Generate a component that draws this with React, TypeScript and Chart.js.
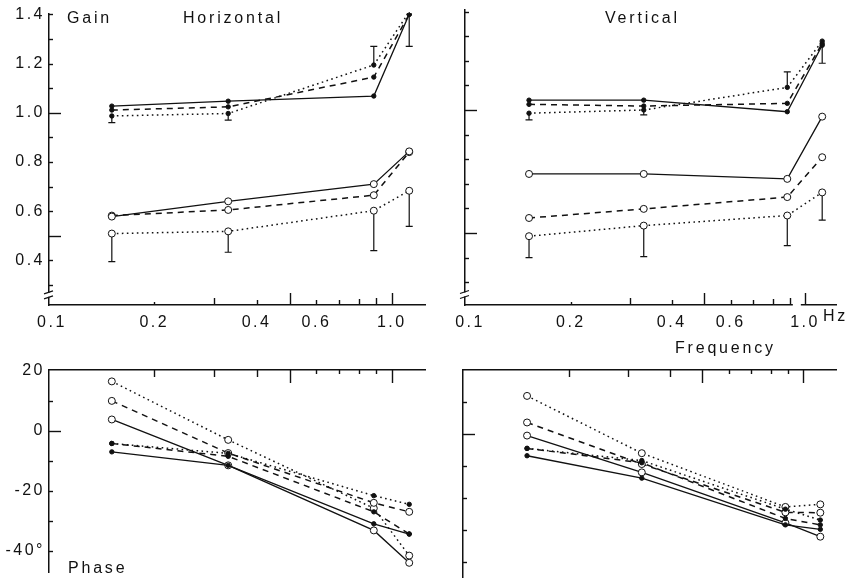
import React, { useEffect, useRef } from "react";
import { Chart, registerables } from "chart.js";

Chart.register(...registerables);

const FONT = "'Liberation Sans', Arial, Helvetica, sans-serif";
const INK = "#111";

// ---------- data ----------
const frequencies = [0.15, 0.33, 0.885, 1.125];
const freqTickLabels = [0.1, 0.2, 0.4, 0.6, 1.0];
const freqTickMarks = [0.2, 0.3, 0.4, 0.5, 0.6, 0.7, 0.8, 0.9, 1.0];
const freqTickLenBottom = [3, 7, 5, 12, 5, 5, 6, 7, 12];
const freqTickLenTop = [7, 7, 7, 13, 4, 4, 4, 4, 13];

const gainTickLabels = [0.4, 0.6, 0.8, 1.0, 1.2, 1.4];
const gainTickMarks = [0.3, 0.4, 0.5, 0.6, 0.7, 0.8, 0.9, 1.0, 1.1, 1.2, 1.3, 1.4];
const gainMajorMarks = [0.5, 1.0];
const phaseTickLabels = [20, 0, -20, -40];
const phaseTickMarks = [10, 0, -10, -20, -30, -40];
const phaseMajorMarks = [0];

// Gain, horizontal
const hGainSolidFilled = [1.027, 1.047, 1.068, 1.4];
const hGainDashedFilled = [1.011, 1.024, 1.145, 1.4];
const hGainDottedFilled = [0.987, 0.997, 1.194, 1.41];
const hGainSolidOpen = [0.578, 0.64, 0.71, 0.843];
const hGainDashedOpen = [0.582, 0.605, 0.665, 0.84];
const hGainDottedOpen = [0.509, 0.518, 0.602, 0.683];
const hGainDottedFilledErr = [0.96, 0.97, 1.27, 1.27];
const hGainDottedOpenErr = [0.395, 0.433, 0.44, 0.538];

// Gain, vertical
const vGainSolidFilled = [1.04, 1.04, 0.993, 1.263];
const vGainDashedFilled = [1.023, 1.016, 1.027, 1.27];
const vGainDottedFilled = [0.987, 1.0, 1.092, 1.28];
const vGainSolidOpen = [0.74, 0.74, 0.72, 0.973];
const vGainDashedOpen = [0.561, 0.598, 0.646, 0.808];
const vGainDottedOpen = [0.487, 0.53, 0.571, 0.665];
const vGainDottedFilledErr = [0.96, 0.98, 1.155, 1.19];
const vGainDottedOpenErr = [0.4, 0.404, 0.449, 0.552];

// Phase, horizontal
const hPhaseDottedOpen = [16.5, -3.0, -25.8, -41.6];
const hPhaseDashedOpen = [10.0, -7.4, -24.0, -27.0];
const hPhaseSolidOpen = [3.8, -11.5, -33.2, -44.0];
const hPhaseDottedFilled = [-4.2, -7.5, -21.6, -24.5];
const hPhaseDashedFilled = [-4.2, -8.5, -27.0, -34.4];
const hPhaseSolidFilled = [-7.0, -11.5, -31.0, -34.4];

// Phase, vertical
const vPhaseDottedOpen = [11.9, -6.0, -22.8, -22.0];
const vPhaseDashedOpen = [3.6, -9.4, -24.5, -24.6];
const vPhaseSolidOpen = [-0.5, -12.0, -27.8, -32.1];
const vPhaseDottedFilled = [-4.5, -8.3, -23.5, -26.9];
const vPhaseDashedFilled = [-4.5, -9.0, -26.4, -28.4];
const vPhaseSolidFilled = [-6.8, -13.8, -28.4, -29.8];

// ---------- helpers ----------
type LineStyle = "solid" | "dashed" | "dotted";
type Series = { data: number[]; style: LineStyle; open: boolean };
type ErrorBar = { base: number[]; ends: number[] };

function makeDataset(s: Series) {
  const dash = s.style === "solid" ? [] : s.style === "dashed" ? [6, 5] : [1.6, 3.4];
  return {
    data: frequencies.map((f, i) => ({ x: f, y: s.data[i] })),
    borderColor: INK,
    borderWidth: s.style === "solid" ? 1.3 : 1.5,
    borderDash: dash,
    pointRadius: s.open ? 3.5 : 2.2,
    pointBackgroundColor: s.open ? "#fff" : INK,
    pointBorderColor: INK,
    pointBorderWidth: 1,
    pointStyle: "circle",
    tension: 0,
    fill: false,
  };
}

type Panel = {
  left: number; top: number; w: number; h: number;
  padTop: number; padRight: number; padBottom: number;
  yWidth: number; xHeight: number; xTop: boolean;
  xMin: number; xMax: number; yMin: number; yMax: number;
  yLabels: number[] | null; yFmt: (v: number) => string;
  xLabels: boolean;
  yMarks: number[]; yMajor: number[]; xLens: number[];
  series: Series[]; errorBars: ErrorBar[];
  yBreak: number | null; xGap: number | null;
};

const gainFmt = (v: number) => v.toFixed(1);
const phaseFmt = (v: number) => (v === -40 ? "-40°" : String(v));

const panels: Panel[] = [
  {
    left: 0, top: 0, w: 430, h: 330, padTop: 11, padRight: 5, padBottom: 0,
    yWidth: 49, xHeight: 25, xTop: false,
    xMin: 0.098, xMax: 1.252, yMin: 0.2187, yMax: 1.403,
    yLabels: gainTickLabels, yFmt: gainFmt, xLabels: true,
    yMarks: gainTickMarks, yMajor: gainMajorMarks, xLens: freqTickLenBottom,
    series: [
      { data: hGainSolidFilled, style: "solid", open: false },
      { data: hGainDashedFilled, style: "dashed", open: false },
      { data: hGainDottedFilled, style: "dotted", open: false },
      { data: hGainSolidOpen, style: "solid", open: true },
      { data: hGainDashedOpen, style: "dashed", open: true },
      { data: hGainDottedOpen, style: "dotted", open: true },
    ],
    errorBars: [
      { base: hGainDottedFilled, ends: hGainDottedFilledErr },
      { base: hGainDottedOpen, ends: hGainDottedOpenErr },
    ],
    yBreak: 0.26, xGap: null,
  },
  {
    left: 430, top: 0, w: 426, h: 330, padTop: 10, padRight: 20, padBottom: 0,
    yWidth: 35, xHeight: 25, xTop: false,
    xMin: 0.0966, xMax: 1.237, yMin: 0.2073, yMax: 1.4065,
    yLabels: null, yFmt: gainFmt, xLabels: true,
    yMarks: gainTickMarks, yMajor: gainMajorMarks, xLens: freqTickLenBottom,
    series: [
      { data: vGainSolidFilled, style: "solid", open: false },
      { data: vGainDashedFilled, style: "dashed", open: false },
      { data: vGainDottedFilled, style: "dotted", open: false },
      { data: vGainSolidOpen, style: "solid", open: true },
      { data: vGainDashedOpen, style: "dashed", open: true },
      { data: vGainDottedOpen, style: "dotted", open: true },
    ],
    errorBars: [
      { base: vGainDottedFilled, ends: vGainDottedFilledErr },
      { base: vGainDottedOpen, ends: vGainDottedOpenErr },
    ],
    yBreak: 0.25, xGap: 0.945,
  },
  {
    left: 0, top: 330, w: 430, h: 256, padTop: 40, padRight: 5, padBottom: 0,
    yWidth: 49, xHeight: 0, xTop: true,
    xMin: 0.098, xMax: 1.252, yMin: -47.2, yMax: 20.3,
    yLabels: phaseTickLabels, yFmt: phaseFmt, xLabels: false,
    yMarks: phaseTickMarks, yMajor: phaseMajorMarks, xLens: freqTickLenTop,
    series: [
      { data: hPhaseSolidFilled, style: "solid", open: false },
      { data: hPhaseDashedFilled, style: "dashed", open: false },
      { data: hPhaseDottedFilled, style: "dotted", open: false },
      { data: hPhaseSolidOpen, style: "solid", open: true },
      { data: hPhaseDashedOpen, style: "dashed", open: true },
      { data: hPhaseDottedOpen, style: "dotted", open: true },
    ],
    errorBars: [],
    yBreak: null, xGap: null,
  },
  {
    left: 430, top: 330, w: 426, h: 256, padTop: 40, padRight: 20, padBottom: 9,
    yWidth: 33, xHeight: 0, xTop: true,
    xMin: 0.0966, xMax: 1.253, yMin: -44.7, yMax: 20,
    yLabels: null, yFmt: phaseFmt, xLabels: false,
    yMarks: phaseTickMarks, yMajor: phaseMajorMarks, xLens: freqTickLenTop,
    series: [
      { data: vPhaseSolidFilled, style: "solid", open: false },
      { data: vPhaseDashedFilled, style: "dashed", open: false },
      { data: vPhaseDottedFilled, style: "dotted", open: false },
      { data: vPhaseSolidOpen, style: "solid", open: true },
      { data: vPhaseDashedOpen, style: "dashed", open: true },
      { data: vPhaseDottedOpen, style: "dotted", open: true },
    ],
    errorBars: [],
    yBreak: null, xGap: null,
  },
];

function makeDecor(p: Panel) {
  return {
    id: "decor",
    beforeDraw(chart: any) {
      chart.ctx.letterSpacing = "2.5px";
    },
    beforeDatasetsDraw(chart: any) {
      const ctx = chart.ctx;
      const xs = chart.scales.x;
      const ys = chart.scales.y;
      ctx.save();
      ctx.strokeStyle = INK;
      ctx.lineWidth = 1.2;
      ctx.setLineDash([]);
      p.errorBars.forEach((eb) => {
        eb.ends.forEach((end, i) => {
          const px = xs.getPixelForValue(frequencies[i]);
          const p0 = ys.getPixelForValue(eb.base[i]);
          const p1 = ys.getPixelForValue(end);
          ctx.beginPath();
          ctx.moveTo(px, p0);
          ctx.lineTo(px, p1);
          ctx.moveTo(px - 3.5, p1);
          ctx.lineTo(px + 3.5, p1);
          ctx.stroke();
        });
      });
      ctx.restore();
    },
    afterDraw(chart: any) {
      const ctx = chart.ctx;
      const a = chart.chartArea;
      const xs = chart.scales.x;
      const ys = chart.scales.y;
      ctx.save();
      ctx.strokeStyle = INK;
      ctx.lineWidth = 1.4;
      ctx.setLineDash([]);
      const edge = p.xTop ? a.top : a.bottom;
      const dir = p.xTop ? 1 : -1;
      if (p.xGap != null) {
        const gx = xs.getPixelForValue(p.xGap);
        ctx.fillStyle = "#fff";
        ctx.fillRect(gx - 4, edge - 2, 8, 4);
      }
      freqTickMarks.forEach((v, i) => {
        const px = Math.round(xs.getPixelForValue(v)) + 0.5;
        ctx.beginPath();
        ctx.moveTo(px, edge);
        ctx.lineTo(px, edge + dir * p.xLens[i]);
        ctx.stroke();
      });
      p.yMarks.forEach((v) => {
        const py = Math.round(ys.getPixelForValue(v)) + 0.5;
        const len = p.yMajor.includes(v) ? 12 : 4;
        ctx.beginPath();
        ctx.moveTo(a.left, py);
        ctx.lineTo(a.left + len, py);
        ctx.stroke();
      });
      if (p.yBreak != null) {
        const by = ys.getPixelForValue(p.yBreak);
        ctx.fillStyle = "#fff";
        ctx.fillRect(a.left - 2, by - 2, 4, 4);
        ctx.lineWidth = 1.2;
        ctx.beginPath();
        ctx.moveTo(a.left - 5, by - 1);
        ctx.lineTo(a.left + 4, by - 4);
        ctx.moveTo(a.left - 5, by + 4);
        ctx.lineTo(a.left + 4, by + 1);
        ctx.stroke();
      }
      ctx.restore();
    },
  };
}

function buildConfig(p: Panel): any {
  return {
    type: "line",
    data: { datasets: p.series.map(makeDataset) },
    plugins: [makeDecor(p)],
    options: {
      responsive: false,
      animation: false,
      events: [],
      layout: { padding: { top: p.padTop, right: p.padRight, bottom: p.padBottom, left: 0 } },
      plugins: { legend: { display: false }, tooltip: { enabled: false }, title: { display: false } },
      scales: {
        x: {
          type: "logarithmic",
          position: p.xTop ? "top" : "bottom",
          min: p.xMin,
          max: p.xMax,
          grid: { display: false, drawTicks: false },
          border: { display: true, color: INK, width: 1.5 },
          afterBuildTicks: (scale: any) => {
            scale.ticks = freqTickLabels.map((v) => ({ value: v }));
          },
          afterFit: (scale: any) => {
            scale.height = p.xHeight;
          },
          ticks: {
            display: p.xLabels,
            autoSkip: false,
            maxRotation: 0,
            padding: 8,
            color: INK,
            font: { family: FONT, size: 16 },
            callback: (v: any) => Number(v).toFixed(1),
          },
        },
        y: {
          type: "linear",
          position: "left",
          min: p.yMin,
          max: p.yMax,
          grid: { display: false, drawTicks: false },
          border: { display: true, color: INK, width: 1.5 },
          afterBuildTicks: (scale: any) => {
            if (p.yLabels) scale.ticks = p.yLabels.map((v) => ({ value: v }));
          },
          afterFit: (scale: any) => {
            scale.width = p.yWidth;
          },
          ticks: {
            display: !!p.yLabels,
            autoSkip: false,
            padding: 4,
            color: INK,
            font: { family: FONT, size: 16 },
            callback: (v: any) => p.yFmt(Number(v)),
          },
        },
      },
    },
  };
}

const textStyle: React.CSSProperties = {
  position: "absolute",
  fontFamily: FONT,
  fontSize: 16,
  lineHeight: "16px",
  letterSpacing: "2.8px",
  color: INK,
  whiteSpace: "nowrap",
};

export default function App() {
  const refs = useRef<(HTMLCanvasElement | null)[]>([]);

  useEffect(() => {
    const charts = panels.map((p, i) => new Chart(refs.current[i] as HTMLCanvasElement, buildConfig(p)));
    return () => charts.forEach((c) => c.destroy());
  }, []);

  return (
    <div style={{ position: "absolute", left: 0, top: 0, width: 856, height: 586, background: "#fff", overflow: "hidden" }}>
      {panels.map((p, i) => (
        <canvas
          key={i}
          ref={(el) => { refs.current[i] = el; }}
          width={p.w}
          height={p.h}
          style={{ position: "absolute", left: p.left, top: p.top, width: p.w, height: p.h }}
        />
      ))}
      <div style={{ ...textStyle, left: 67, top: 10 }}>Gain</div>
      <div style={{ ...textStyle, left: 183, top: 10 }}>Horizontal</div>
      <div style={{ ...textStyle, left: 605, top: 10 }}>Vertical</div>
      <div style={{ ...textStyle, left: 823, top: 308 }}>Hz</div>
      <div style={{ ...textStyle, left: 675, top: 340 }}>Frequency</div>
      <div style={{ ...textStyle, left: 68, top: 560 }}>Phase</div>
    </div>
  );
}
